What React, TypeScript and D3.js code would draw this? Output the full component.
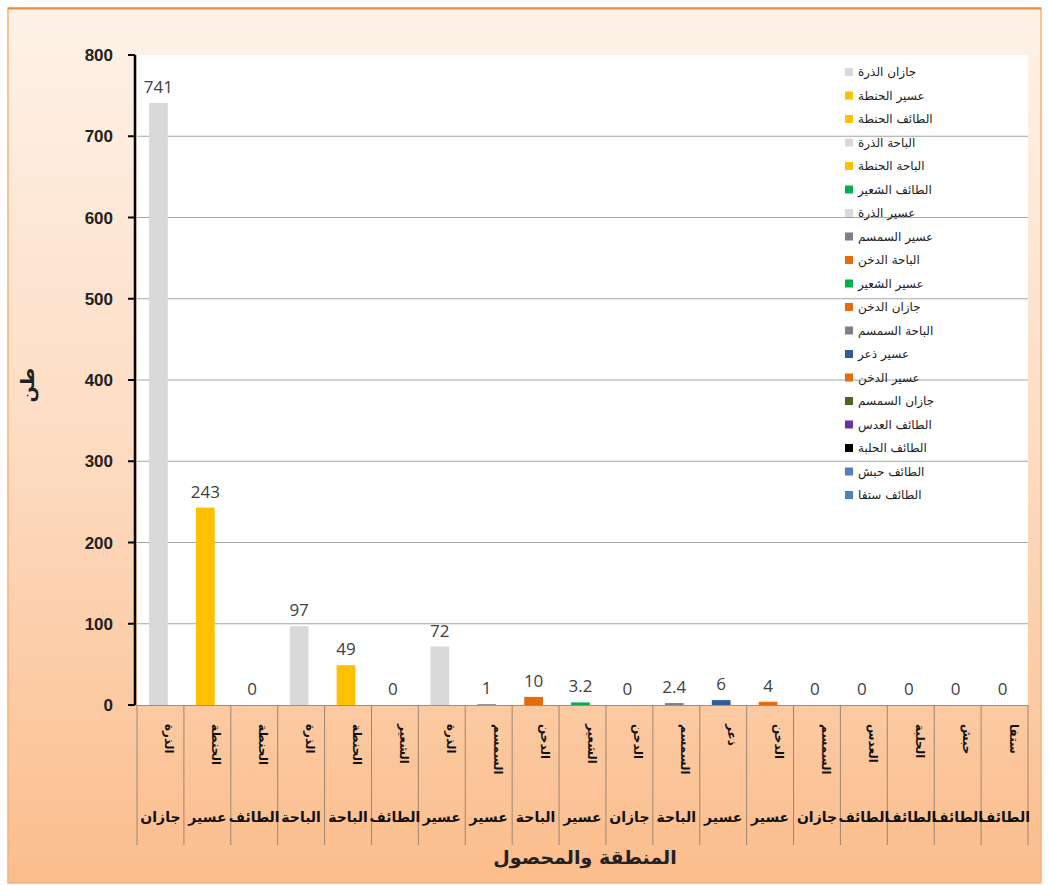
import React from "react";
import * as d3 from "d3";

const crops = ["الذرة", "الحنطة", "الحنطة", "الذرة", "الحنطة", "الشعير", "الذرة", "السمسم", "الدخن", "الشعير", "الدخن", "السمسم", "ذعر", "الدخن", "السمسم", "العدس", "الحلبة", "حبش", "ستفا"];
const regions = ["جازان", "عسير", "الطائف", "الباحة", "الباحة", "الطائف", "عسير", "عسير", "الباحة", "عسير", "جازان", "الباحة", "عسير", "عسير", "جازان", "الطائف", "الطائف", "الطائف", "الطائف"];
const values = [741, 243, 0, 97, 49, 0, 72, 1, 10, 3.2, 0, 2.4, 6, 4, 0, 0, 0, 0, 0];
const barColors = ["#D9D9D9", "#FFC000", "#FFC000", "#D9D9D9", "#FFC000", "#00B050", "#D9D9D9", "#808080", "#E46C0A", "#00B050", "#E46C0A", "#808080", "#2F5B9A", "#E46C0A", "#4F6228", "#7030A0", "#000000", "#4F81BD", "#4F81BD"];
const yTicks = [0, 100, 200, 300, 400, 500, 600, 700, 800];
const yTitle = "طن";
const xTitle = "المنطقة والمحصول";

export default function App() {
  const W = 1049, H = 885;
  const left = 137, right = 1028, top = 55, bottom = 705;
  const idx = values.map((_, i) => i);
  const x = d3.scaleBand<number>().domain(idx).range([left, right]).padding(0);
  const y = d3.scaleLinear().domain([0, 800]).range([bottom, top]);
  const bw = x.bandwidth();
  const barW = bw * 0.4;
  const legendY = d3.scaleLinear().domain([0, values.length - 1]).range([72, 495]);
  const arabic = "'DejaVu Sans', sans-serif";

  return (
    <svg width={W} height={H} style={{ position: "absolute", left: 0, top: 0 }}>
      <defs>
        <linearGradient id="bg" x1="0" y1="0" x2="0" y2="1">
          <stop offset="0" stopColor="#FEF2E8" />
          <stop offset="0.5" stopColor="#FDDCC2" />
          <stop offset="1" stopColor="#FBBD8C" />
        </linearGradient>
      </defs>
      <rect x={8} y={8} width={1033} height={875} fill="url(#bg)" stroke="#F5B27A" strokeWidth={1.5} />
      <line x1={8} x2={1041} y1={8.5} y2={8.5} stroke="#EE8A3A" strokeWidth={2} />
      <rect x={left} y={top} width={right - left} height={bottom - top} fill="#FFFFFF" />
      {yTicks.filter((t) => t > 0 && t < 800).map((t) => (
        <line key={t} x1={left} x2={right} y1={y(t)} y2={y(t)} stroke="#A6A6A6" strokeWidth={1} />
      ))}
      {values.map((v, i) => (
        <rect key={i} x={x(i)! + bw / 2 - barW / 2 - 2} y={y(v)} width={barW} height={bottom - y(v)} fill={barColors[i]} />
      ))}
      {values.map((v, i) => (
        <text key={i} x={x(i)! + bw / 2 - 2} y={y(v) - 10} textAnchor="middle" fontFamily="'Open Sans', sans-serif" fontSize={17} fill="#404040">
          {String(v)}
        </text>
      ))}
      {/* legend */}
      {values.map((_, i) => (
        <g key={i}>
          <rect x={845} y={legendY(i) - 4} width={8} height={8} fill={barColors[i]} />
          <text x={858} y={legendY(i) + 4} fontFamily={arabic} fontSize={12} fill="#222222">
            {regions[i] + " " + crops[i]}
          </text>
        </g>
      ))}
      {/* x category area */}
      <line x1={left} x2={right} y1={bottom + 0.5} y2={bottom + 0.5} stroke="#B08A6A" strokeWidth={1} />
      {d3.range(values.length + 1).map((i) => {
        const xx = left + i * bw;
        return <line key={i} x1={xx} x2={xx} y1={bottom} y2={845} stroke="#9E8672" strokeWidth={1} />;
      })}
      {values.map((_, i) => {
        const cx = x(i)! + bw / 2;
        return (
          <text key={i} transform={`translate(${cx + 5},${724}) rotate(90)`} fontFamily={arabic} fontSize={12} fontWeight="bold" fill="#111">
            {crops[i]}
          </text>
        );
      })}
      {values.map((_, i) => {
        const cx = x(i)! + bw / 2;
        return (
          <text key={i} x={cx} y={822} textAnchor="middle" fontFamily={arabic} fontSize={14} fontWeight="bold" fill="#111">
            {regions[i]}
          </text>
        );
      })}
      {/* y axis */}
      <line x1={135} x2={135} y1={top} y2={bottom} stroke="#000" strokeWidth={2.5} />
      {yTicks.map((t) => (
        <g key={t}>
          <line x1={128} x2={135} y1={y(t)} y2={y(t)} stroke="#000" strokeWidth={2} />
          <text x={113} y={y(t) + 6} textAnchor="end" fontFamily="'Liberation Sans', Arial, sans-serif" fontSize={17} fontWeight="bold" fill="#222">
            {t}
          </text>
        </g>
      ))}
      <text transform={`translate(34,385) rotate(-90)`} textAnchor="middle" fontFamily={arabic} fontSize={19} fontWeight="bold" fill="#222">
        {yTitle}
      </text>
      <text x={585} y={864} textAnchor="middle" fontFamily={arabic} fontSize={19} fontWeight="bold" fill="#222">
        {xTitle}
      </text>
    </svg>
  );
}
